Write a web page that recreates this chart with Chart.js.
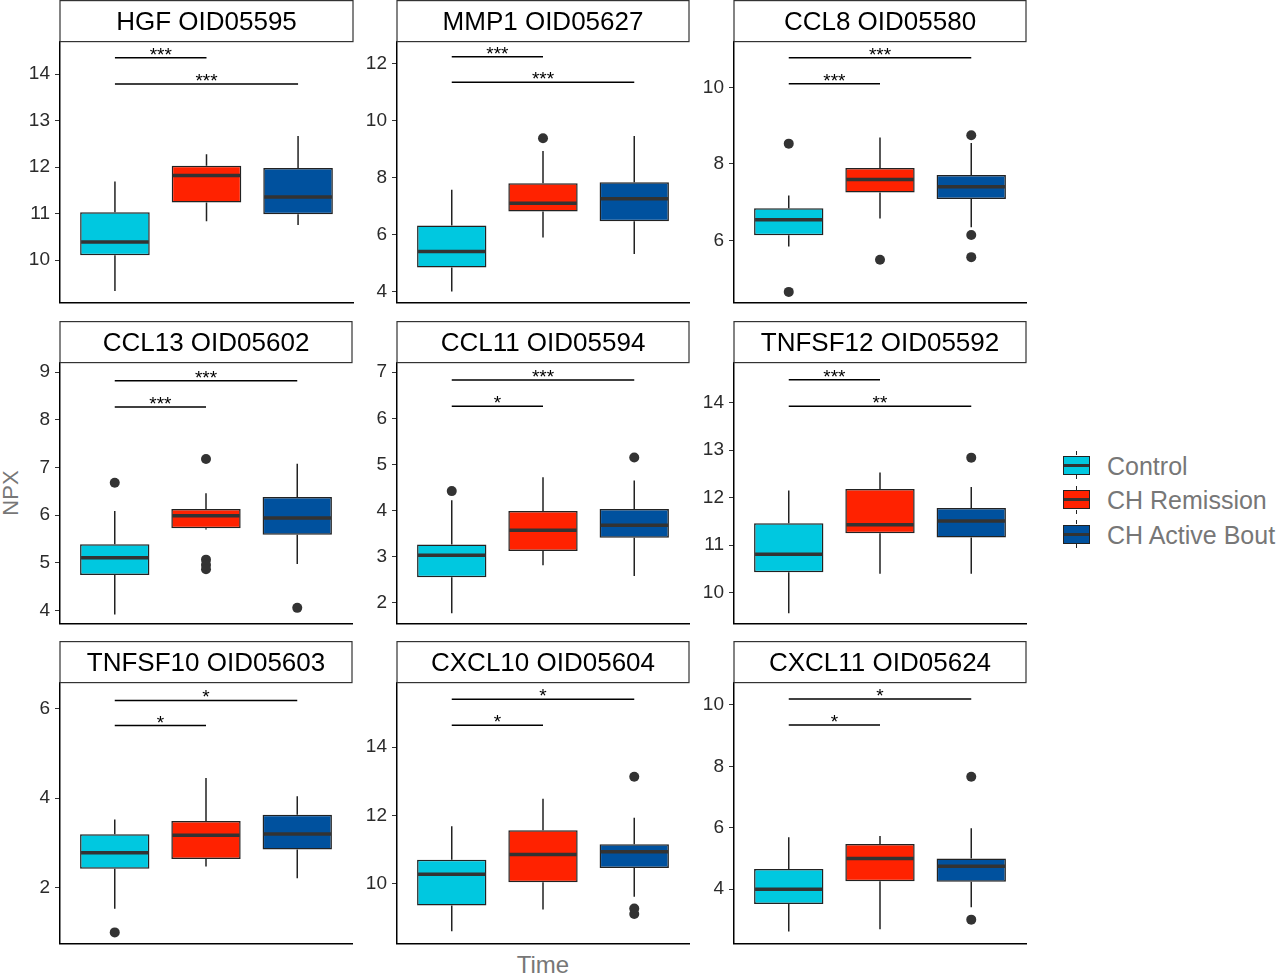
<!DOCTYPE html>
<html>
<head>
<meta charset="utf-8">
<script src="https://cdn.jsdelivr.net/npm/chart.js@4.4.0/dist/chart.umd.min.js"></script>
<style>
  body { margin: 0; background: #fff; width: 1280px; height: 974px; position: relative; overflow: hidden;
         font-family: "Liberation Sans", Arial, sans-serif; }
  canvas.panel { position: absolute; }
  #ylab { position: absolute; left: -19px; top: 481px; width: 60px; line-height: 24px; text-align: center;
          font-size: 22px; color: #777; transform: rotate(-90deg); }
  #xlab { position: absolute; left: 443px; top: 953px; width: 200px; line-height: 24px; text-align: center;
          font-size: 24px; color: #777; }
  .lg-item { position: absolute; left: 1063px; height: 34px; }
  .lg-key { position: absolute; left: 0; top: 0; width: 27px; height: 19px; box-sizing: border-box; border: 1.5px solid #222; }
  .lg-key .med { position: absolute; left: 0; right: 0; top: 50%; height: 3px; margin-top: -1.5px; background: #333; }
  .lg-key .wt, .lg-key .wb { position: absolute; left: 11.5px; width: 1.5px; height: 4px; background: #222; }
  .lg-key .wt { top: -5.5px; } .lg-key .wb { bottom: -5.5px; }
  .lg-text { position: absolute; left: 44px; top: -5px; line-height: 30px; font-size: 25px; color: #777; white-space: nowrap; }
</style>
</head>
<body>
<div id="ylab">NPX</div>
<div id="xlab">Time</div>
<div id="legend"></div>

<script>
const panelNames = ['HGF OID05595', 'MMP1 OID05627', 'CCL8 OID05580',
                    'CCL13 OID05602', 'CCL11 OID05594', 'TNFSF12 OID05592',
                    'TNFSF10 OID05603', 'CXCL10 OID05604', 'CXCL11 OID05624'];
const groups = ['Control', 'CH Remission', 'CH Active Bout'];

// one row per panel, columns = Control, CH Remission, CH Active Bout
const whiskerLow = [
  [9.34, 10.84, 10.76], [4.01, 5.90, 5.32], [5.84, 6.57, 6.34],
  [3.92, 5.70, 4.98], [1.77, 2.81, 2.58], [9.57, 10.40, 10.40],
  [1.53, 2.47, 2.21], [8.60, 9.24, 9.61], [2.62, 2.70, 3.41]
];
const q1 = [
  [10.11, 11.24, 10.99], [4.85, 6.81, 6.47], [6.13, 7.25, 7.08],
  [4.75, 5.73, 5.59], [2.55, 3.12, 3.41], [10.43, 11.25, 11.16],
  [2.42, 2.64, 2.85], [9.36, 10.04, 10.46], [3.52, 4.26, 4.24]
];
const medians = [
  [10.39, 11.82, 11.36], [5.41, 7.10, 7.26], [6.54, 7.59, 7.40],
  [5.11, 5.99, 5.94], [3.03, 3.57, 3.68], [10.81, 11.43, 11.51],
  [2.78, 3.17, 3.20], [10.27, 10.85, 10.93], [4.00, 5.00, 4.75]
];
const q3 = [
  [11.03, 12.03, 11.98], [6.32, 7.80, 7.84], [6.84, 7.89, 7.71],
  [5.39, 6.13, 6.38], [3.26, 3.99, 4.03], [11.46, 12.18, 11.78],
  [3.19, 3.49, 3.63], [10.70, 11.56, 11.15], [4.66, 5.47, 5.00]
];
const whiskerHigh = [
  [11.69, 12.28, 12.67], [7.57, 8.93, 9.46], [7.17, 8.69, 8.55],
  [6.09, 6.46, 7.08], [4.22, 4.72, 4.65], [12.15, 12.53, 12.22],
  [3.52, 4.45, 4.04], [11.68, 12.49, 11.93], [5.69, 5.73, 5.98]
];
const outliers = [
  [[], [], []],
  [[], [9.38], []],
  [[8.53, 4.65], [5.49], [8.75, 6.14, 5.56]],
  [[6.68], [7.18, 5.07, 4.96, 4.87], [4.06]],
  [[4.42], [], [5.15]],
  [[], [], [12.84]],
  [[1.00], [], []],
  [[], [], [13.13, 9.27, 9.11]],
  [[], [], [7.66, 3.01]]
];

// significance brackets: all start at Control, end at group number in sigTo
const sigY = [[14.35, 13.79], [12.23, 11.34], [10.78, 10.10], [8.82, 8.27], [6.83, 6.26],
              [14.48, 13.92], [6.18, 5.62], [15.40, 14.64], [10.19, 9.34]];
const sigTo = [[2, 3], [2, 3], [3, 2], [3, 2], [3, 2], [2, 3], [3, 2], [3, 2], [3, 2]];
const sigText = [['***', '***'], ['***', '***'], ['***', '***'], ['***', '***'], ['***', '*'],
                 ['***', '**'], ['*', '*'], ['*', '*'], ['*', '*']];

const yTicks = [[10, 11, 12, 13, 14], [4, 6, 8, 10, 12], [6, 8, 10], [4, 5, 6, 7, 8, 9], [2, 3, 4, 5, 6, 7],
                [10, 11, 12, 13, 14], [2, 4, 6], [10, 12, 14], [4, 6, 8, 10]];
const yMin = [9.09, 3.62, 4.37, 3.73, 1.545, 9.35, 0.75, 8.24, 2.23];
const yMax = [14.69, 12.75, 11.19, 9.19, 7.20, 14.83, 6.57, 15.88, 10.71];

// layout / style
const boxColors = ['#00C8E0', '#FF2200', '#00519E'];
const plotLeft = [60, 397, 734];
const rowTop = [0, 321, 641];
const plotW = 293, plotH = 261, stripH = 41, axisW = 45, padRight = 4, padBottom = 16;

Chart.defaults.font.family = '"Liberation Sans", Arial, sans-serif';

const boxPlotPlugin = {
  id: 'boxplot',
  beforeDatasetsDraw(chart) {
    const p = chart.options.panel;
    const { ctx, scales: { x, y } } = chart;
    ctx.save();
    ctx.strokeStyle = '#222';
    ctx.lineWidth = 1.5;
    groups.forEach((g, i) => {
      const px = x.getPixelForValue(i + 1);
      ctx.beginPath();
      ctx.moveTo(px, y.getPixelForValue(whiskerHigh[p][i]));
      ctx.lineTo(px, y.getPixelForValue(q3[p][i]));
      ctx.moveTo(px, y.getPixelForValue(q1[p][i]));
      ctx.lineTo(px, y.getPixelForValue(whiskerLow[p][i]));
      ctx.stroke();
    });
    ctx.restore();
  },
  afterDatasetsDraw(chart) {
    const p = chart.options.panel;
    const { ctx, scales: { x, y } } = chart;
    const bars = chart.getDatasetMeta(0).data;
    ctx.save();
    // medians
    ctx.strokeStyle = '#333';
    ctx.lineWidth = 3.5;
    bars.forEach((bar, i) => {
      const my = y.getPixelForValue(medians[p][i]);
      ctx.beginPath();
      ctx.moveTo(bar.x - bar.width / 2 + 1, my);
      ctx.lineTo(bar.x + bar.width / 2 - 1, my);
      ctx.stroke();
    });
    // significance brackets
    ctx.strokeStyle = '#000';
    ctx.fillStyle = '#000';
    ctx.lineWidth = 1.5;
    ctx.font = '19px "Liberation Sans", Arial, sans-serif';
    ctx.textAlign = 'center';
    ctx.textBaseline = 'alphabetic';
    sigY[p].forEach((v, k) => {
      const x0 = x.getPixelForValue(1), x1 = x.getPixelForValue(sigTo[p][k]);
      const py = y.getPixelForValue(v);
      ctx.beginPath();
      ctx.moveTo(x0, py);
      ctx.lineTo(x1, py);
      ctx.stroke();
      ctx.fillText(sigText[p][k], (x0 + x1) / 2, py + 3);
    });
    ctx.restore();
  },
  afterDraw(chart) {
    const p = chart.options.panel;
    const { ctx, chartArea } = chart;
    ctx.save();
    ctx.fillStyle = '#fff';
    ctx.fillRect(chartArea.left, 0.5, chartArea.right - chartArea.left, stripH);
    ctx.strokeStyle = '#333';
    ctx.lineWidth = 1.2;
    ctx.strokeRect(chartArea.left, 0.6, chartArea.right - chartArea.left, stripH);
    ctx.fillStyle = '#000';
    ctx.font = '26px "Liberation Sans", Arial, sans-serif';
    ctx.textAlign = 'center';
    ctx.textBaseline = 'middle';
    ctx.fillText(panelNames[p], (chartArea.left + chartArea.right) / 2, stripH / 2 + 2);
    ctx.restore();
  }
};

panelNames.forEach((name, p) => {
  const col = p % 3, row = Math.floor(p / 3);
  const cv = document.createElement('canvas');
  cv.className = 'panel';
  cv.width = axisW + plotW + padRight;
  cv.height = stripH + 1 + plotH + padBottom;
  cv.style.left = (plotLeft[col] - axisW) + 'px';
  cv.style.top = rowTop[row] + 'px';
  document.body.appendChild(cv);

  const outPoints = [];
  outliers[p].forEach((vals, i) => vals.forEach(v => outPoints.push({ x: i + 1, y: v })));

  new Chart(cv, {
    type: 'bar',
    data: {
      datasets: [
        {
          type: 'bar',
          data: groups.map((g, i) => ({ x: i + 1, y: [q1[p][i], q3[p][i]] })),
          backgroundColor: boxColors,
          borderColor: '#222',
          borderWidth: 1.5,
          borderSkipped: false,
          categoryPercentage: 1,
          barPercentage: 0.76,
          order: 2
        },
        {
          type: 'scatter',
          data: outPoints,
          pointRadius: 5,
          pointBackgroundColor: '#333',
          pointBorderWidth: 0,
          order: 1
        }
      ]
    },
    options: {
      panel: p,
      responsive: false,
      animation: false,
      layout: { padding: { top: stripH + 1, right: padRight, bottom: padBottom, left: 0 } },
      plugins: { legend: { display: false }, tooltip: { enabled: false } },
      scales: {
        x: {
          type: 'linear', min: 0.4, max: 3.6, offset: false,
          afterBuildTicks: s => { s.ticks = groups.map((g, i) => ({ value: i + 1 })); },
          ticks: { display: false },
          grid: { display: false, drawTicks: false, offset: false },
          border: { color: '#000', width: 1.5 },
          afterFit: s => { s.height = 0; }
        },
        y: {
          min: yMin[p], max: yMax[p],
          afterBuildTicks: s => { s.ticks = yTicks[p].map(v => ({ value: v })); },
          ticks: { color: '#2b2b2b', font: { size: 19 }, padding: 5 },
          grid: { display: true, drawOnChartArea: false, tickLength: 5, color: '#333' },
          border: { color: '#000', width: 1.5 },
          afterFit: s => { s.width = axisW; }
        }
      }
    },
    plugins: [boxPlotPlugin]
  });
});

// legend
const legend = document.getElementById('legend');
const legendTop = [455.7, 490.2, 524.7];
groups.forEach((g, i) => {
  const item = document.createElement('div');
  item.className = 'lg-item';
  item.style.top = legendTop[i] + 'px';
  item.innerHTML = '<div class="lg-key" style="background:' + boxColors[i] + '"><div class="wt"></div><div class="med"></div><div class="wb"></div></div>' +
                   '<div class="lg-text">' + g + '</div>';
  legend.appendChild(item);
});
</script>
</body>
</html>
